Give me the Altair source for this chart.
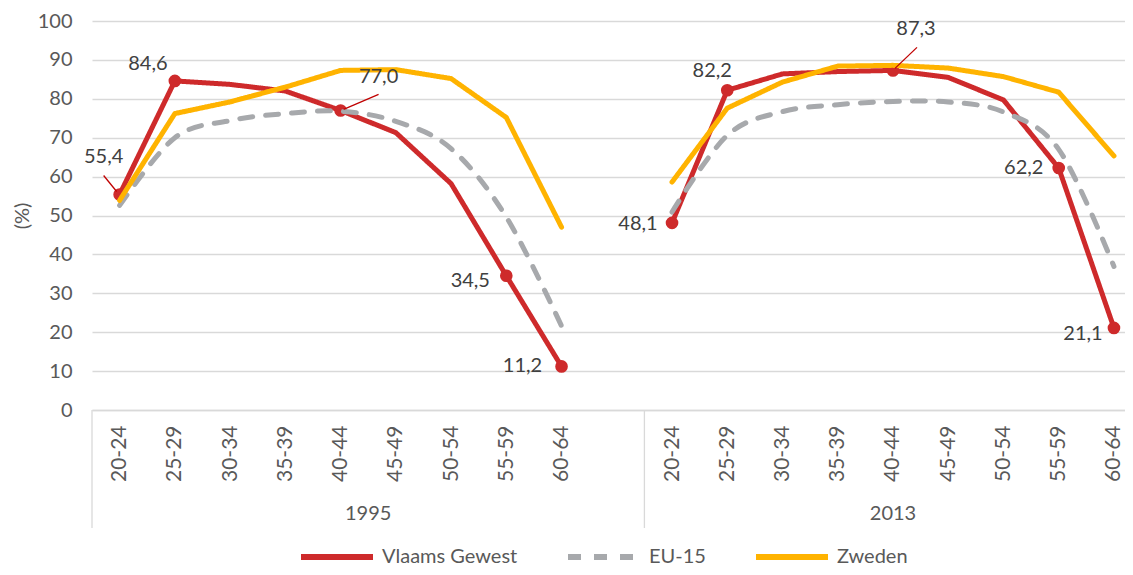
import altair as alt
import pandas as pd

# ---- data ----
ages = ["20-24", "25-29", "30-34", "35-39", "40-44", "45-49", "50-54", "55-59", "60-64"]
years = ["1995", "2013"]
series = ["Vlaams Gewest", "EU-15", "Zweden"]

vlaams_1995 = [55.4, 84.6, 83.7, 82.0, 77.0, 71.3, 58.2, 34.5, 11.2]
vlaams_2013 = [48.1, 82.2, 86.4, 87.0, 87.3, 85.5, 79.7, 62.2, 21.1]
eu15_1995 = [52.6, 70.0, 74.4, 76.2, 76.8, 74.2, 67.2, 49.6, 21.6]
eu15_2013 = [50.9, 70.6, 76.7, 78.5, 79.3, 79.2, 76.6, 67.0, 36.9]
zweden_1995 = [53.9, 76.2, 79.2, 83.0, 87.3, 87.5, 85.2, 75.2, 47.0]
zweden_2013 = [58.6, 77.6, 84.3, 88.4, 88.6, 87.9, 85.7, 81.7, 65.3]

labelled_ages = ["20-24", "25-29", "40-44", "55-59", "60-64"]

values = {
    ("Vlaams Gewest", "1995"): vlaams_1995,
    ("Vlaams Gewest", "2013"): vlaams_2013,
    ("EU-15", "1995"): eu15_1995,
    ("EU-15", "2013"): eu15_2013,
    ("Zweden", "1995"): zweden_1995,
    ("Zweden", "2013"): zweden_2013,
}

# category slots: 1995 group has 9 ages + 1 empty slot, 2013 starts at slot 10
year_start = {"1995": 0, "2013": 10}
year_slots = {"1995": 10, "2013": 9}

rows = []
for (s, y), vals in values.items():
    for i, (a, v) in enumerate(zip(ages, vals)):
        rows.append({"series": s, "year": y, "age": a,
                     "idx": year_start[y] + i, "value": v,
                     "key": y + "_" + a,
                     "marked": (s == "Vlaams Gewest") and (a in labelled_ages)})
df = pd.DataFrame(rows)

group_df = pd.DataFrame({
    "year": years,
    "center": [year_start[y] - 0.5 + year_slots[y] / 2 for y in years],
})
sep_df = pd.DataFrame({"pos": [-0.5, 9.5]})

# ---- styles ----
RED = "#CE2A2B"
GREY = "#A7A9AC"
GOLD = "#FFB300"
TXT = "#595959"
LBL = "#404040"
GRID = "#D9D9D9"
FONT = "Lato"

# label offsets (pixels) of the data labels, and leader lines
label_offsets = {
    "1995_20-24": (-16, -37), "1995_25-29": (-27, -17), "1995_40-44": (38, -33),
    "1995_55-59": (-36, 5), "1995_60-64": (-39, 0),
    "2013_20-24": (-34, 1), "2013_25-29": (-15, -19), "2013_40-44": (23, -41),
    "2013_55-59": (-35, 0), "2013_60-64": (-31, 6),
}
leaders = {
    "1995_20-24": ((-16, -19), (-3, -3)),
    "1995_40-44": ((38, -16), (3, -1)),
    "2013_40-44": ((24, -23), (2, -2)),
}

W, H = 1033, 389
TOP = 13
xscale = alt.Scale(domain=[-0.5, 18.2], nice=False, zero=False)
yscale = alt.Scale(domain=[0, 100], nice=False)

tick_vals = [year_start[y] + i for y in years for i in range(len(ages))]
label_arr = "[" + ",".join("'" + a + "'" for a in ages) + "]"

x_axis = alt.Axis(
    values=tick_vals,
    labelExpr=label_arr + "[datum.value >= 10 ? datum.value - 10 : datum.value]",
    labelAngle=270, labelAlign="right", labelBaseline="middle",
    labelPadding=15, ticks=False, grid=False, domain=True,
    domainColor=GRID, domainWidth=1.3, labelFontSize=21, labelColor=TXT,
    labelFont=FONT, title=None, labelOverlap=False, labelFlush=False, labelBound=False,
)
y_axis = alt.Axis(
    values=list(range(0, 101, 10)), labelFontSize=20, labelColor=TXT, labelFont=FONT,
    grid=True, gridColor=GRID, gridWidth=1.3, domain=False, ticks=False,
    labelPadding=20, title="(%)", titleFontSize=20, titleFontWeight="normal",
    titleColor=TXT, titleFont=FONT, titleX=-70, titleY=H / 2, titleAngle=270,
    titleAlign="center", titleBaseline="middle",
)

legend = alt.Legend(
    title=None, orient="none", legendX=206, legendY=497, direction="horizontal",
    symbolType="stroke", symbolSize=5184, symbolStrokeWidth=6,
    labelFontSize=20, labelColor=TXT, labelFont=FONT, labelOffset=6,
    columnPadding=38, padding=0,
)
color_enc = alt.Color("series:N", scale=alt.Scale(domain=series, range=[RED, GREY, GOLD]), legend=legend)
dash_enc = alt.StrokeDash("series:N", scale=alt.Scale(domain=series, range=[[1, 0], [13, 13], [1, 0]]), legend=legend)

base = alt.Chart(df).encode(
    x=alt.X("idx:Q", scale=xscale, axis=x_axis),
    y=alt.Y("value:Q", scale=yscale, axis=y_axis),
)

def line_layer(name, interp="linear"):
    return base.transform_filter(alt.datum.series == name).mark_line(
        strokeWidth=5, strokeCap="round", strokeJoin="round", interpolate=interp
    ).encode(color=color_enc, strokeDash=dash_enc, detail="year:N")

red_line = line_layer("Vlaams Gewest")
grey_line = line_layer("EU-15", "cardinal")
gold_line = line_layer("Zweden")

marked = base.transform_filter("datum.marked")
points = marked.mark_circle(size=160, opacity=1, color=RED)

text_layers = []
for key, (dx, dy) in label_offsets.items():
    text_layers.append(
        marked.transform_filter(alt.datum.key == key)
        .transform_calculate(lab="replace(format(datum.value, '.1f'), '.', ',')")
        .mark_text(dx=dx, dy=dy, align="center", baseline="middle",
                   fontSize=20, font=FONT, color=LBL)
        .encode(text="lab:N")
    )

leader_layers = []
for key, ((x1, y1), (x2, y2)) in leaders.items():
    leader_layers.append(
        marked.transform_filter(alt.datum.key == key)
        .mark_rule(color="#C00000", strokeWidth=1.3, xOffset=x1, yOffset=y1,
                   x2Offset=x2, y2Offset=y2)
        .encode(x2="idx:Q", y2="value:Q")
    )

seps = alt.Chart(sep_df).mark_rule(color=GRID, strokeWidth=1.3).encode(
    x=alt.X("pos:Q", scale=xscale), y=alt.value(H), y2=alt.value(H + 118)
)
group_labels = alt.Chart(group_df).mark_text(
    fontSize=20, font=FONT, color=TXT, align="center", baseline="middle"
).encode(x=alt.X("center:Q", scale=xscale), y=alt.value(H + 104), text="year:N")

chart = alt.layer(
    seps, red_line, points, grey_line, gold_line, *leader_layers, *text_layers, group_labels
).properties(
    width=W, height=H,
    autosize=alt.AutoSizeParams(type="none"),
    padding={"left": 84, "top": TOP, "right": 0, "bottom": 559 - TOP - H},
).configure_view(stroke=None)

chart.save("out.html", embed_options={"renderer": "svg", "actions": False})
